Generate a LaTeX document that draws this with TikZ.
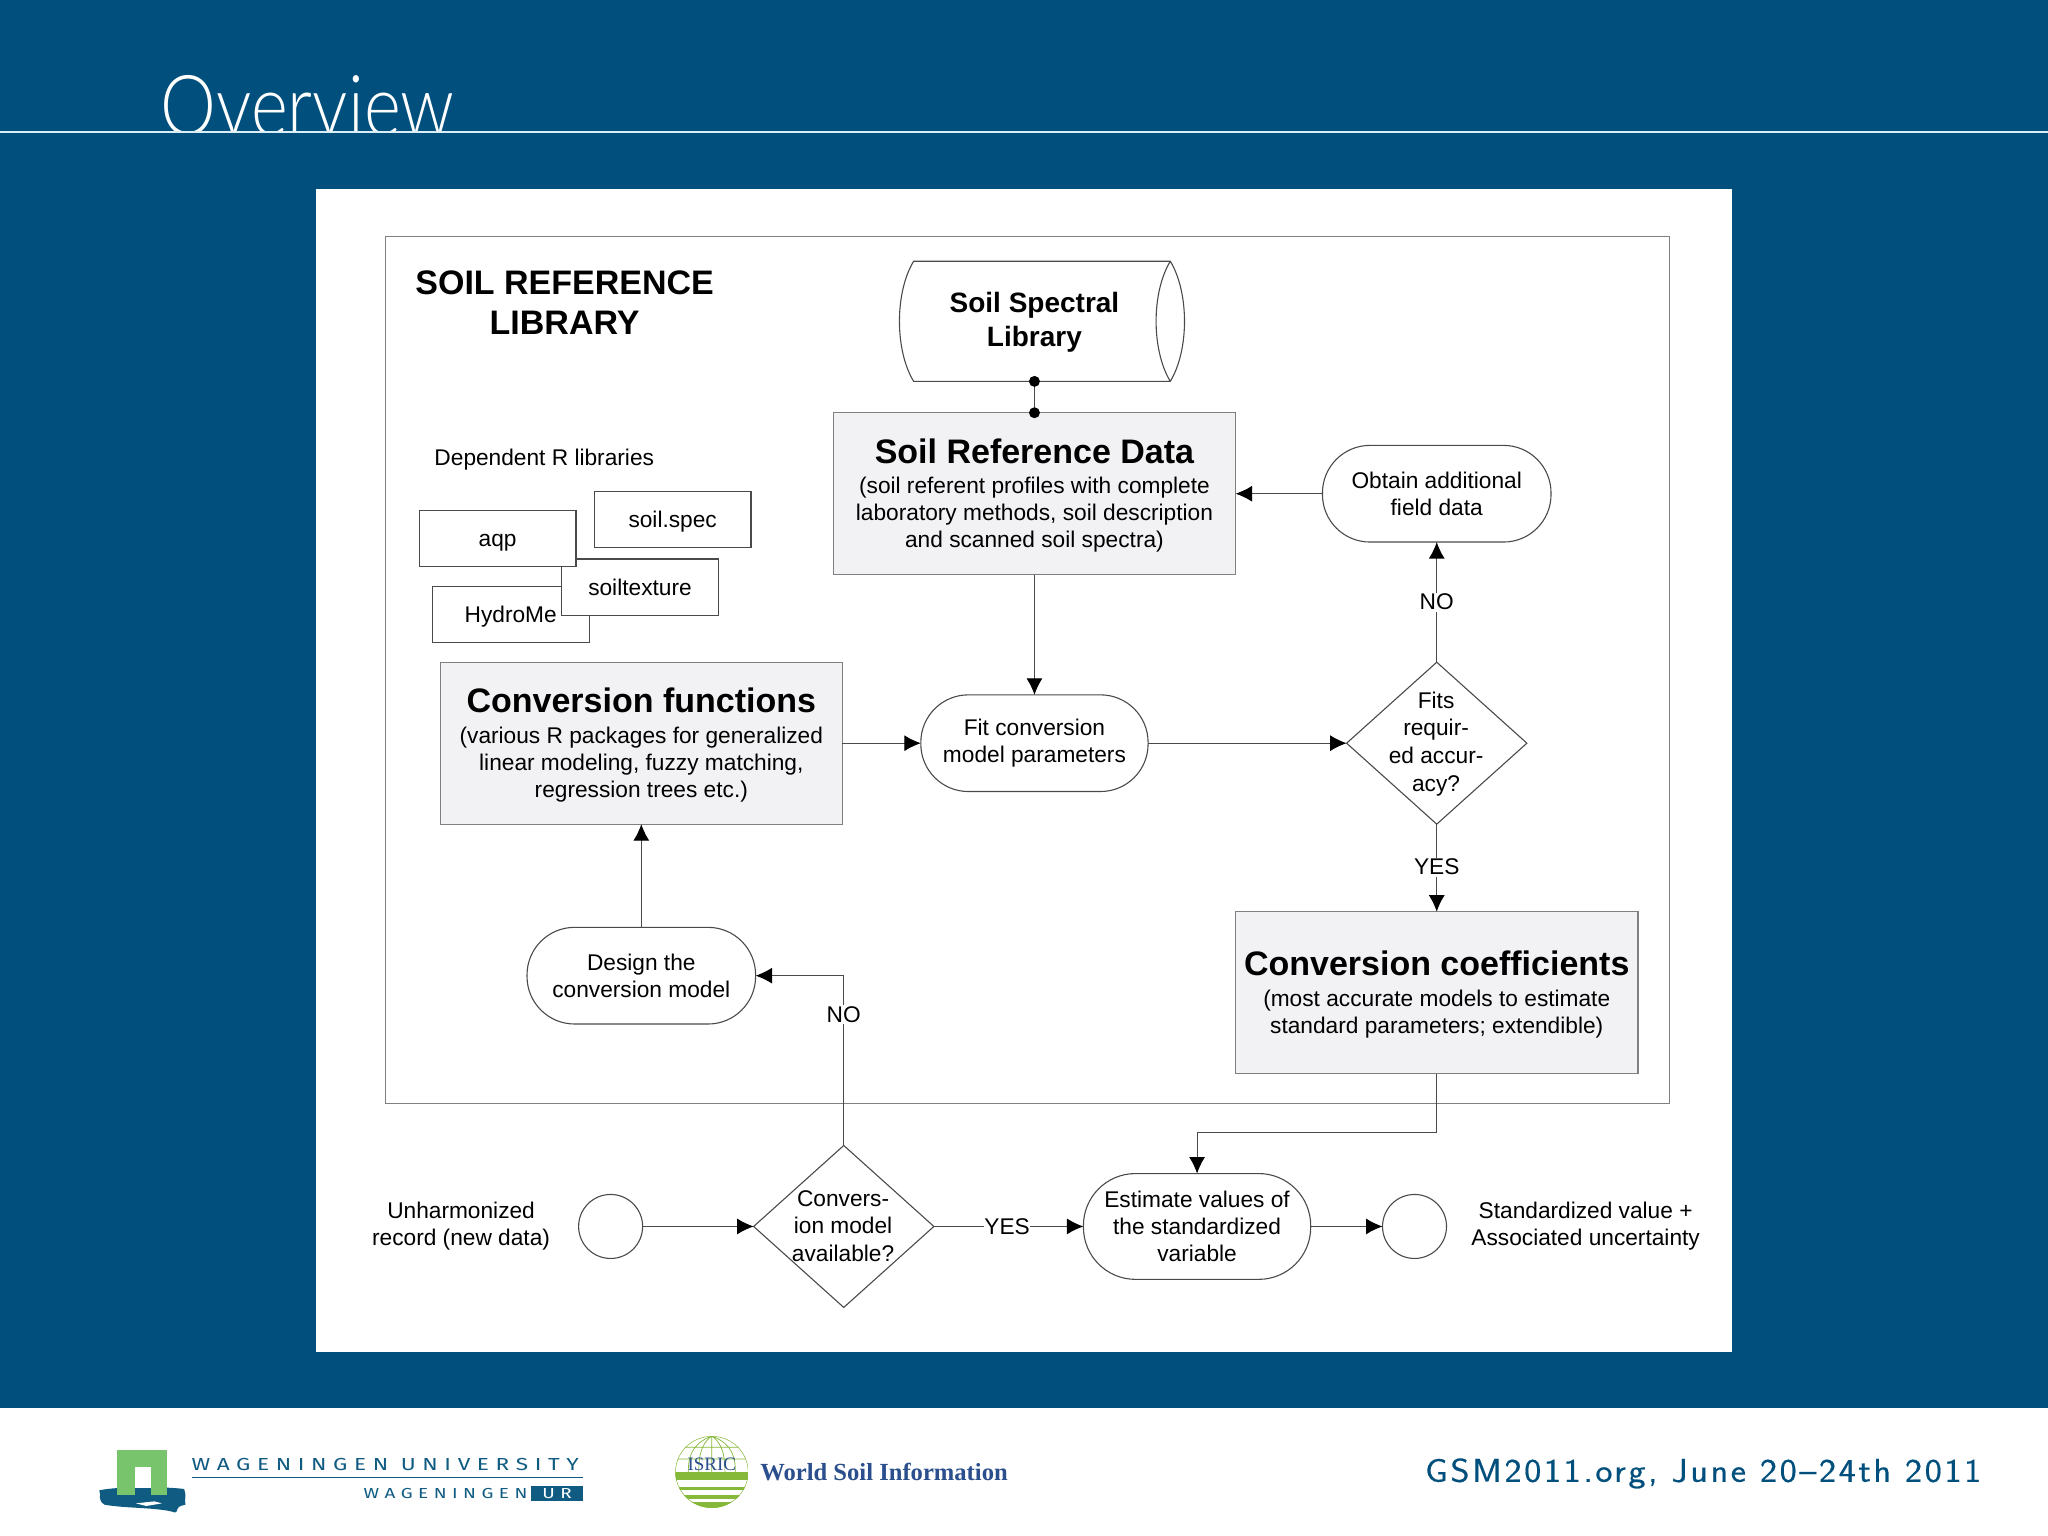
\documentclass[tikz,border=0pt]{standalone}
\usepackage{fontspec}
\usepackage{graphicx}
\setmainfont{Liberation Sans}
\usetikzlibrary{shapes.geometric,arrows.meta}
\definecolor{slide}{HTML}{004F7C}
\definecolor{rulec}{HTML}{D9EEF6}
\definecolor{linec}{HTML}{4A4A4A}
\definecolor{framec}{HTML}{808080}
\definecolor{boxfill}{HTML}{F2F2F4}
\definecolor{wurblue}{HTML}{0F5B82}
\definecolor{wurgreen}{HTML}{78C46C}
\definecolor{isgreen}{HTML}{86B83A}
\definecolor{isblue}{HTML}{2B4F8C}
\newcommand{\bodyf}{\fontsize{22.7}{27}\selectfont}
\newcommand{\diaf}{\fontsize{22.7}{27.6}\selectfont}
\newcommand{\headf}{\fontsize{34}{38}\selectfont\bfseries}
\newcommand{\subf}{\fontsize{28}{34}\selectfont\bfseries}
\newcommand{\headstrut}{\rule{0pt}{28pt}}
\newfontfamily\titlef{Lato Light}
\newfontfamily\wurf[LetterSpace=38,FakeStretch=1.3]{Fira Sans}
\newfontfamily\serf{Liberation Serif}
\newfontfamily\footf[LetterSpace=8,FakeStretch=1.1,FakeBold=0.4]{Latin Modern Sans}
\tikzset{
  x=1.30612pt, y=-1.30612pt,
  sized/.style 2 args={minimum width=#1*1.30612pt, minimum height=#2*1.30612pt, inner sep=0pt, outer sep=0pt},
  main/.style={draw=framec, line width=1.3pt, fill=boxfill, align=center, font=\bodyf},
  pill/.style={draw=linec, line width=1.1pt, fill=white, rounded corners=47.5pt, align=center, font=\bodyf},
  lib/.style={draw=linec, line width=1.1pt, fill=white, font=\bodyf, sized={120}{43}, text height=16pt, text depth=0pt},
  dia/.style={diamond, draw=linec, line width=1.1pt, fill=white, sized={#1}{124}},
  dot/.style={circle, draw=linec, line width=1.1pt, fill=white, sized={49}{49}},
  txt/.style={align=center, font=\bodyf, inner sep=0pt},
  conn/.style={draw=linec, line width=1.1pt},
  arr/.style={conn, -{Latex[length=16.5pt,width=16pt,color=black]}},
  elabel/.style={fill=white, font=\bodyf, inner sep=1.5pt, text=black},
}
\begin{document}
\begin{tikzpicture}
\useasboundingbox (0,0) rectangle (1568,1176);
% slide
\fill[slide] (0,0) rectangle (1568,1078);
\fill[white] (0,1078) rectangle (1568,1176);
\begin{scope}
  \clip (0,0) rectangle (1568,101);
  \node[anchor=base west, text=white, inner sep=0pt, font=\titlef\fontsize{84}{90}\selectfont] (title) at (123,103.5) {\scalebox{0.84}[1]{Overview}};
\end{scope}
\fill[rulec] (0,100.6) rectangle (1568,102);
\fill[white] (242,145) rectangle (1326,1035);
\draw[framec, line width=1.2pt] (295,181) rectangle (1278,845);

% headings
\node[txt, font=\fontsize{34}{40.2}\selectfont\bfseries] (srl) at (432.3,231.5) {SOIL REFERENCE\\LIBRARY};
\node[txt, anchor=base west] (dep) at (332.5,356.3) {Dependent R libraries};

% spectral library
\node[txt, font=\subf, sized={190}{90}] (speclib) at (792,247) {Soil Spectral\\Library};
\draw[linec, line width=1.1pt] (699.5,200) .. controls (685,224) and (685,268) .. (699.5,292) -- (896,292)
  .. controls (910.5,268) and (910.5,224) .. (896,200) -- cycle
  (896,200) .. controls (881.5,224) and (881.5,268) .. (896,292);

% R libraries
\node[lib] (hydro) at (391,470.5) {HydroMe};
\node[lib] (soiltex) at (490,449.5) {soiltexture};
\node[lib] (aqp) at (381,412.5) {aqp};
\node[lib] (soilspec) at (515,397.5) {soil.spec};

% main boxes
\node[main, sized={308}{124}] (ref) at (792,378) {{\headf\headstrut Soil Reference Data}\\[3.6pt](soil referent profiles with complete\\laboratory methods, soil description\\and scanned soil spectra)};
\node[main, sized={308}{124}] (conv) at (491,569) {{\headf\headstrut Conversion functions}\\[3.6pt](various R packages for generalized\\linear modeling, fuzzy matching,\\regression trees etc.)};
\node[main, sized={308}{124}] (coef) at (1100,760) {{\headf\headstrut Conversion coefficients}\\[3.6pt](most accurate models to estimate\\standard parameters; extendible)};

% pills
\node[pill, sized={175}{74}] (obtain) at (1100,378) {Obtain additional\\field data};
\node[pill, sized={174}{74}] (fit) at (792,569) {Fit conversion\\model parameters};
\node[pill, sized={175}{74}] (design) at (491,747) {Design the\\conversion model};
\node[pill, rounded corners=52pt, sized={174}{81}] (est) at (916.5,939) {Estimate values of\\the standardized\\variable};

% diamonds
\node[dia={138}] (fits) at (1100,569) {};
\node[txt, font=\diaf] (fitst) at (1099.5,569.5) {Fits\\requir-\\ed accur-\\acy?};
\node[dia={138}] (convq) at (646,939) {};
\node[txt, font=\diaf] (convqt) at (645.5,938.5) {Convers-\\ion model\\available?};

% terminals
\node[dot] (startc) at (467.5,939) {};
\node[dot] (endc) at (1083,939) {};
\node[txt] (unh) at (353,939) {Unharmonized\\record (new data)};
\node[txt] (std) at (1214,939) {Standardized value +\\Associated uncertainty};

% connectors
\draw[conn] (speclib.south) -- (ref.north);
\fill[black] (speclib.south) circle (4.2);
\fill[black] (ref.north) circle (4.2);
\draw[arr] (ref.south) -- (fit.north);
\draw[arr] (conv.east) -- (fit.west);
\draw[arr] (fit.east) -- (fits.west);
\draw[arr] (fits.north) -- node[elabel, pos=0.5] (no1) {NO} (obtain.south);
\draw[arr] (obtain.west) -- (ref.east);
\draw[arr] (fits.south) -- node[elabel, pos=0.49] (yes1) {YES} (coef.north);
\draw[arr] (design.north) -- (conv.south);
\draw[arr] (convq.north) |- node[elabel, pos=0.385] (no2) {NO} (design.east);
\coordinate (mid) at (1100,867);
\draw[arr] (coef.south) -- (mid) -| (est.north);
\draw[arr] (startc.east) -- (convq.west);
\draw[arr] (convq.east) -- node[elabel, pos=0.49, inner sep=0.5pt] (yes2) {YES} (est.west);
\draw[arr] (est.east) -- (endc.west);

% Wageningen logo
\fill[wurblue] (76,1141) .. controls (90,1138) and (125,1138) .. (141,1140)
  .. controls (143,1145) and (141,1148) .. (142,1152) .. controls (132,1154) and (138,1157) .. (134,1158)
  .. controls (122,1154) and (96,1155) .. (80,1152) .. controls (74,1148) and (78,1145) .. (76,1141) -- cycle;
\fill[white] (104,1151) -- (118,1149.5) -- (124,1151) -- (112,1153) -- cycle;
\fill[wurgreen] (89.6,1110) rectangle (128,1144.7);
\fill[white] (103,1123) rectangle (115.6,1139);
\fill[wurblue] (103,1139) rectangle (115.6,1144.7);
\node[anchor=base west, inner sep=0pt, text=wurblue, font=\wurf\fontsize{17.4}{18}\selectfont] (wu) at (146.5,1125.5) {WAGENINGEN UNIVERSITY};
\fill[wurblue] (147,1130.5) rectangle (446,1131.6);
\fill[wurblue] (406.7,1138) rectangle (446,1149);
\node[anchor=base east, inner sep=0pt, text=wurblue, font=\wurf\fontsize{14.5}{15}\selectfont] (wg) at (404,1147.5) {WAGENINGEN};
\node[anchor=base, inner sep=0pt, text=white, font=\wurf\fontsize{14.5}{15}\selectfont] (ur) at (426.5,1147.5) {UR};

% ISRIC logo
\begin{scope}
  \clip (545,1127) ellipse (28 and 27.5);
  \draw[isgreen, line width=1pt] (545,1127) ellipse (28 and 27.5);
  \draw[isgreen, line width=0.7pt] (545,1099) -- (545,1127)
     (545,1099.5) .. controls (527,1106) and (527,1120) .. (527,1127)
     (545,1099.5) .. controls (563,1106) and (563,1120) .. (563,1127)
     (545,1099.5) .. controls (535,1106) and (535,1120) .. (535,1127)
     (545,1099.5) .. controls (555,1106) and (555,1120) .. (555,1127)
     (517,1117) -- (573,1117) (519,1108) -- (571,1108);
  \fill[isgreen] (517,1126.8) rectangle (573,1133);
  \fill[isgreen] (517,1138.5) rectangle (573,1140.7);
  \fill[isgreen] (517,1144.7) rectangle (573,1147.6);
  \fill[isgreen] (517,1150) rectangle (573,1155);
\end{scope}
\node[inner sep=0pt, text=isblue, font=\serf\fontsize{19}{20}\selectfont] (isric) at (545,1121) {ISRIC};
\node[anchor=west, inner sep=0pt, text=isblue, font=\serf\bfseries\fontsize{24.6}{26}\selectfont] (wsi) at (582,1127) {World Soil Information};

% conference
\node[anchor=base east, inner sep=0pt, text=slide, font=\footf\fontsize{33}{38}\selectfont] (gsm) at (1517,1134.5) {GSM2011.org, June 20–24th 2011};
\end{tikzpicture}
\end{document}
